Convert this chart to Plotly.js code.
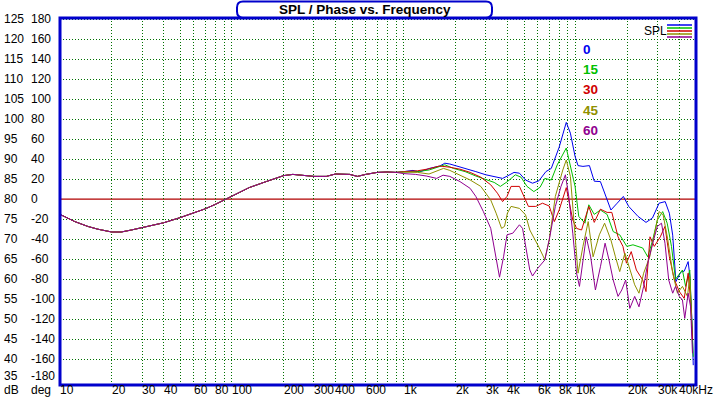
<!DOCTYPE html>
<html><head><meta charset="utf-8">
<script src="https://cdn.plot.ly/plotly-3.0.1.min.js"></script>
<style>html,body{margin:0;padding:0;background:#fff;}#chart{width:717px;height:398px;}
#chart .gridlayer path{shape-rendering:crispEdges !important;}</style>
</head><body><div id="chart"></div>
<script>
// ---- data ----
const FREQ_COMMON = [10, 12.2, 14.5, 16.6, 20, 22.7, 26, 30, 35.5, 40, 50, 60, 70, 80, 90, 100, 126, 158, 200, 226, 300, 354, 400, 484, 537, 600, 700, 800, 900];
const SPL_COMMON  = [76.2, 74.4, 73.2, 72.5, 71.8, 71.8, 72.3, 72.9, 73.6, 74.1, 75.4, 76.5, 77.6, 78.7, 79.8, 80.8, 82.9, 84.4, 85.9, 86.2, 85.7, 85.7, 86.3, 86.2, 85.7, 86.2, 86.7, 86.8, 86.7];

const FREQ_0 = [1000, 1130, 1230, 1410, 1620, 1730, 1850, 2000, 2270, 2620, 3000, 3440, 3750, 4000, 4370, 4700, 5100, 5600, 6100, 6700, 7200, 8000, 8800, 9300, 9900, 10300, 11000, 12000, 12800, 13900, 14900, 16000, 17400, 18900, 20300, 23000, 25600, 27900, 30500, 33100, 35000, 36600, 38200, 40800, 42700, 45000, 46000, 47300, 48200];
const SPL_0  = [86.9, 87.2, 86.8, 87.7, 88.3, 89.0, 88.8, 88.4, 87.7, 86.9, 86.1, 85.5, 85.2, 85.8, 86.7, 86.5, 84.8, 84.0, 84.6, 86.9, 87.7, 93.0, 99.2, 96.5, 90.7, 88.4, 88.2, 88.4, 84.5, 84.4, 80.7, 77.3, 79.0, 80.7, 78.2, 75.7, 74.2, 75.3, 79.0, 79.4, 76.5, 71.0, 59.4, 61.8, 62.0, 64.4, 61.0, 50.0, 38.5];

const FREQ_15 = [1000, 1200, 1400, 1610, 1730, 1940, 2270, 2620, 3000, 3350, 3640, 4000, 4450, 4800, 5200, 5700, 6200, 6600, 7200, 7800, 8800, 9300, 9900, 10400, 11300, 11900, 12800, 13900, 15200, 16500, 18000, 19800, 21500, 24500, 26200, 28000, 29800, 32000, 34000, 36000, 38000, 41700, 43500, 46000, 47300, 48200];
const SPL_15  = [86.8, 86.9, 87.3, 88.2, 88.6, 87.7, 86.9, 85.8, 85.0, 84.2, 83.2, 84.4, 86.1, 85.5, 83.2, 81.9, 83.0, 85.2, 84.8, 88.6, 92.8, 88.6, 83.2, 75.7, 74.0, 78.6, 76.2, 77.3, 76.2, 71.9, 71.1, 68.2, 68.6, 67.8, 65.6, 69.8, 74.8, 76.9, 74.0, 68.2, 60.0, 62.3, 58.2, 62.3, 50.7, 40.6];

const FREQ_30 = [1000, 1200, 1400, 1610, 1850, 2120, 2430, 2800, 3200, 3500, 3750, 3980, 4200, 4700, 5100, 5300, 5850, 6400, 7000, 7500, 8000, 8800, 9100, 9600, 10100, 10800, 11900, 12800, 13900, 15200, 16200, 17600, 18800, 19700, 21000, 22500, 24500, 25600, 27000, 28600, 31000, 33000, 35000, 37500, 40000, 42700, 45000, 46500, 47700];
const SPL_30  = [86.9, 87.1, 87.6, 88.3, 88.0, 87.5, 86.7, 85.5, 83.6, 81.5, 79.4, 80.7, 83.2, 83.2, 79.8, 78.2, 78.2, 79.0, 78.3, 74.4, 77.3, 82.9, 79.8, 74.8, 72.7, 72.3, 78.2, 74.2, 77.5, 76.7, 76.7, 70.6, 68.2, 64.0, 66.9, 62.3, 59.8, 56.9, 70.6, 68.2, 70.6, 73.2, 65.6, 59.8, 56.9, 55.2, 61.5, 54.8, 44.8];

const FREQ_45 = [1000, 1200, 1400, 1700, 1850, 2120, 2430, 2800, 3200, 3440, 3700, 3850, 4000, 4200, 4700, 5100, 5400, 6100, 6600, 7000, 7600, 8400, 8800, 9300, 9900, 10300, 11000, 11800, 12600, 13700, 14700, 16000, 17000, 18000, 19300, 20500, 22000, 23300, 24800, 26900, 28500, 30500, 32200, 34300, 36600, 39000, 41700, 44600, 46000, 47300];
const SPL_45  = [86.8, 86.7, 86.3, 87.7, 87.2, 86.1, 84.8, 83.2, 79.8, 76.5, 72.7, 73.2, 76.5, 78.2, 77.7, 76.1, 72.3, 68.0, 64.9, 69.8, 80.7, 87.3, 89.8, 85.7, 71.5, 61.5, 68.2, 74.4, 65.6, 71.1, 74.0, 69.8, 65.6, 61.9, 66.5, 63.1, 58.6, 56.5, 61.5, 65.6, 70.6, 76.9, 76.1, 69.8, 61.5, 56.5, 58.2, 55.7, 60.6, 48.2];

const FREQ_60 = [1000, 1170, 1350, 1550, 1690, 1850, 2120, 2430, 2620, 2900, 3200, 3350, 3500, 3600, 3800, 3980, 4300, 4700, 4900, 5200, 5400, 5600, 6000, 6600, 7000, 7600, 8200, 8700, 9100, 9600, 10100, 10500, 11000, 11500, 12200, 13000, 13900, 14800, 15600, 16500, 17600, 18500, 19500, 20600, 22000, 23300, 24800, 26200, 28000, 29800, 31500, 33000, 34700, 36600, 38000, 40000, 41700, 43000, 45000, 46500, 47700];
const SPL_60  = [86.4, 86.2, 85.8, 85.2, 86.0, 85.7, 84.4, 82.7, 80.7, 76.9, 72.7, 68.2, 64.0, 60.5, 65.6, 71.1, 71.5, 73.6, 72.7, 66.5, 62.3, 60.8, 62.7, 64.8, 69.8, 78.2, 83.2, 86.1, 80.7, 71.5, 61.5, 58.2, 64.0, 70.6, 65.6, 57.3, 63.1, 69.0, 64.8, 59.8, 55.7, 57.3, 59.8, 52.7, 55.7, 53.1, 58.2, 64.0, 69.0, 73.2, 74.0, 69.0, 59.8, 56.5, 58.2, 55.7, 54.8, 50.2, 56.5, 53.1, 41.5];

const SERIES_NAMES  = ['0', '15', '30', '45', '60'];
const SERIES_COLORS = ['#0000F0', '#00C000', '#D00000', '#909000', '#900090'];

const DB_TICKS   = [125, 120, 115, 110, 105, 100, 95, 90, 85, 80, 75, 70, 65, 60, 55, 50, 45, 40, 35];
const DEG_TICKS  = [180, 160, 140, 120, 100, 80, 60, 40, 20, 0, -20, -40, -60, -80, -100, -120, -140, -160, -180];
const DB_GRID    = [40, 45, 50, 55, 60, 65, 70, 75, 85, 90, 95, 100, 105, 110, 115, 120, 125];
const FREQ_GRID  = [20, 30, 40, 50, 60, 70, 80, 90, 100, 200, 300, 400, 500, 600, 700, 800, 900, 1000, 2000, 3000, 4000, 5000, 6000, 7000, 8000, 9000, 10000, 20000, 30000, 40000];
const FREQ_TICK_VALS  = [10, 20, 30, 40, 60, 80, 100, 200, 300, 400, 600, 1000, 2000, 3000, 4000, 6000, 8000, 10000, 20000, 30000, 40000];
const FREQ_TICK_TEXT  = ['10', '20', '30', '40', '60', '80', '100', '200', '300', '400', '600', '1k', '2k', '3k', '4k', '6k', '8k', '10k', '20k', '30k', '40kHz'];

// ---- layout geometry ----
const L = 60, R = 696, T = 18, B = 385;
const px = x => (x - L) / (R - L);
const py = y => (B - y) / (B - T);
const FONT = 'Arial, "Liberation Sans", sans-serif';
const BORDER = '#0000CC';
const GRID = '#007000';

const freqs = [FREQ_0, FREQ_15, FREQ_30, FREQ_45, FREQ_60];
const spls  = [SPL_0, SPL_15, SPL_30, SPL_45, SPL_60];
const traces = SERIES_NAMES.map((n, i) => ({
  type: 'scatter', mode: 'lines', name: n,
  x: FREQ_COMMON.concat(freqs[i]), y: SPL_COMMON.concat(spls[i]),
  line: {color: SERIES_COLORS[i], width: 1}, hoverinfo: 'skip'
}));
// invisible trace to activate the phase axis
traces.push({type: 'scatter', mode: 'lines', x: [10, 40000], y: [0, 0], yaxis: 'y2', line: {width: 0}, opacity: 0, hoverinfo: 'skip', showlegend: false});

const lastRow = v => (v === 35 || v === -180);
const annotations = [];
annotations.push({xref: 'paper', yref: 'paper', x: px(365), y: py(9.5), text: '<b>SPL / Phase vs. Frequency</b>', showarrow: false, xanchor: 'center', yanchor: 'middle', font: {family: FONT, size: 13.5, color: '#000'}});
annotations.push({xref: 'paper', yref: 'paper', x: px(642), y: py(31), text: 'SPL', showarrow: false, xanchor: 'left', yanchor: 'middle', font: {family: FONT, size: 12, color: '#000'}});
SERIES_NAMES.forEach((n, i) => annotations.push({xref: 'paper', yref: 'paper', x: px(580.5), y: py(49.7 + 20.1 * i), text: '<b>' + n + '</b>', showarrow: false, xanchor: 'left', yanchor: 'middle', font: {family: FONT, size: 13.5, color: SERIES_COLORS[i]}}));
DB_TICKS.forEach(v => annotations.push({xref: 'paper', yref: 'y', x: 0, y: v, xshift: -58, yshift: lastRow(v) ? 3 : 0, text: String(v), showarrow: false, xanchor: 'left', yanchor: 'middle', font: {family: FONT, size: 12, color: '#000'}}));
DEG_TICKS.forEach(v => annotations.push({xref: 'paper', yref: 'y2', x: 0, y: v, xshift: -31, yshift: lastRow(v) ? 3 : 0, text: String(v), showarrow: false, xanchor: 'left', yanchor: 'middle', font: {family: FONT, size: 12, color: '#000'}}));
FREQ_TICK_VALS.forEach((v, i) => annotations.push({xref: 'x', yref: 'paper', x: Math.log10(v), y: 0, yshift: -5, xshift: -2, text: FREQ_TICK_TEXT[i], showarrow: false, xanchor: 'left', yanchor: 'middle', font: {family: FONT, size: 12, color: '#000'}}));
annotations.push({xref: 'paper', yref: 'paper', x: 0, y: 0, xshift: -58, yshift: -5, text: 'dB', showarrow: false, xanchor: 'left', yanchor: 'middle', font: {family: FONT, size: 12, color: '#000'}});
annotations.push({xref: 'paper', yref: 'paper', x: 0, y: 0, xshift: -31, yshift: -5, text: 'deg', showarrow: false, xanchor: 'left', yanchor: 'middle', font: {family: FONT, size: 12, color: '#000'}});

const shapes = [];
shapes.push({type: 'line', xref: 'paper', yref: 'y2', x0: 0, x1: 1, y0: 0, y1: 0, line: {color: '#B00000', width: 1.2}, layer: 'between'});
shapes.push({type: 'rect', xref: 'paper', yref: 'paper', x0: 0, x1: 1, y0: 0, y1: 1, line: {color: BORDER, width: 3}, layer: 'above'});
(function () {
  const l = px(237), r = px(492), t = py(1.5), b = py(17.5), rx = 6 / (R - L), ry = 6 / (B - T);
  const path = `M ${l + rx},${t} L ${r - rx},${t} Q ${r},${t} ${r},${t - ry} L ${r},${b + ry} Q ${r},${b} ${r - rx},${b} L ${l + rx},${b} Q ${l},${b} ${l},${b + ry} L ${l},${t - ry} Q ${l},${t} ${l + rx},${t} Z`;
  shapes.push({type: 'path', xref: 'paper', yref: 'paper', path: path, fillcolor: '#FFFFFF', line: {color: BORDER, width: 2}, layer: 'above'});
})();
SERIES_COLORS.forEach((c, i) => shapes.push({type: 'line', xref: 'paper', yref: 'paper', x0: px(667), x1: px(692), y0: py(25 + 3 * i), y1: py(25 + 3 * i), line: {color: c, width: 1.5}, layer: 'above'}));

const layout = {
  width: 717, height: 398,
  margin: {l: L, r: 717 - R, t: T, b: 398 - B, pad: 0},
  paper_bgcolor: '#FFFFFF', plot_bgcolor: '#FFFFFF',
  showlegend: false,
  xaxis: {type: 'log', range: [1, Math.log10(50000)], tickvals: FREQ_GRID, showticklabels: false, ticks: '',
          showgrid: true, gridcolor: GRID, griddash: '1px,2px', gridwidth: 1, zeroline: false, showline: false, fixedrange: true},
  yaxis: {range: [33.55, 125.3], tickvals: DB_GRID, showticklabels: false, ticks: '',
          showgrid: true, gridcolor: GRID, griddash: '1px,2px', gridwidth: 1, zeroline: false, showline: false, fixedrange: true},
  yaxis2: {overlaying: 'y', side: 'left', range: [(33.55 - 80) * 4, (125.3 - 80) * 4], showgrid: false, showticklabels: false, ticks: '',
           zeroline: false, showline: false, fixedrange: true},
  annotations: annotations,
  shapes: shapes
};

Plotly.newPlot('chart', traces, layout, {displayModeBar: false, staticPlot: true});
</script>
</body></html>
